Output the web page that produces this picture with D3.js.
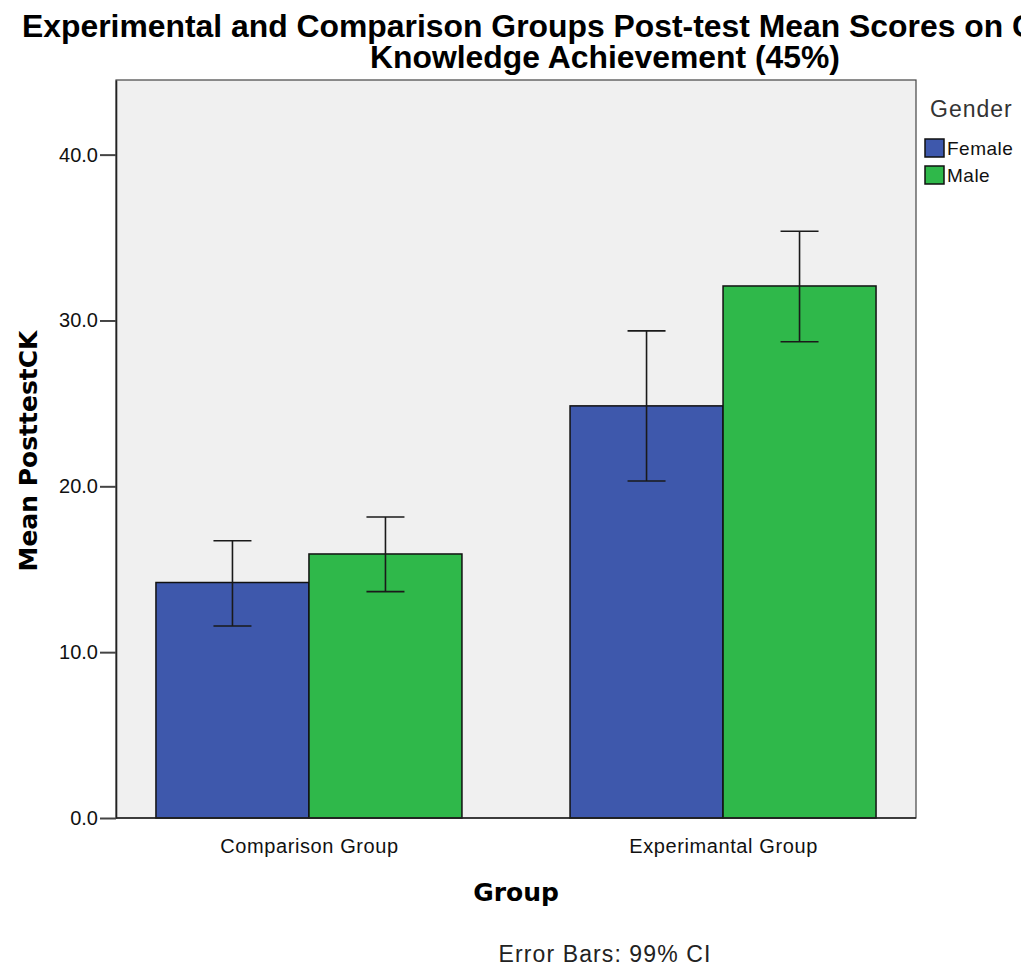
<!DOCTYPE html>
<html>
<head>
<meta charset="utf-8">
<script src="https://cdn.jsdelivr.net/npm/d3@7"></script>
<style>
  body { margin: 0; background: #fff; }
  svg { display: block; font-family: "Liberation Sans", Arial, sans-serif; }
</style>
</head>
<body>
<svg id="chart"></svg>
<script>
// data
const groups = ["Comparison Group", "Experimantal Group"];
const genders = ["Female", "Male"];
const femaleMeans = [14.2, 24.85];
const maleMeans = [15.92, 32.08];
const femaleLow = [11.58, 20.32];
const femaleHigh = [16.72, 29.37];
const maleLow = [13.65, 28.72];
const maleHigh = [18.15, 35.38];
const yTicks = [0, 10, 20, 30, 40];

const colors = ["#3e58ac", "#2fb84a"];

const width = 1021, height = 966;
const margin = {top: 80, right: 105, bottom: 148, left: 116};

const svg = d3.select("#chart")
  .attr("width", width)
  .attr("height", height);

// rows for the bars
let rows = [];
groups.forEach(function(g, i) {
  rows.push({group: g, gender: "Female", mean: femaleMeans[i], lo: femaleLow[i], hi: femaleHigh[i]});
  rows.push({group: g, gender: "Male", mean: maleMeans[i], lo: maleLow[i], hi: maleHigh[i]});
});

const x = d3.scalePoint()
  .domain(groups)
  .range([margin.left, width - margin.right])
  .padding(0.466);

const inner = d3.scaleBand()
  .domain(genders)
  .range([-153, 153]);

const y = d3.scaleLinear()
  .domain([0, 44.5])
  .range([height - margin.bottom, margin.top]);

const color = d3.scaleOrdinal().domain(genders).range(colors);

// plot background
svg.append("rect")
  .attr("x", margin.left)
  .attr("y", margin.top)
  .attr("width", width - margin.left - margin.right)
  .attr("height", height - margin.top - margin.bottom)
  .attr("fill", "#f0f0f0")
  .attr("stroke", "#444")
  .attr("stroke-width", 1.2);

// bars
svg.selectAll(".bar")
  .data(rows)
  .enter().append("rect")
  .attr("class", "bar")
  .attr("x", function(d) { return x(d.group) + inner(d.gender); })
  .attr("y", function(d) { return y(d.mean); })
  .attr("width", inner.bandwidth())
  .attr("height", function(d) { return y(0) - y(d.mean); })
  .attr("fill", function(d) { return color(d.gender); })
  .attr("stroke", "#111")
  .attr("stroke-width", 1.5);

// error bars
let eb = svg.selectAll(".err")
  .data(rows)
  .enter().append("g")
  .attr("class", "err")
  .attr("transform", function(d) { return "translate(" + (x(d.group) + inner(d.gender) + inner.bandwidth() / 2) + ",0)"; })
  .attr("stroke", "#1a1a1a")
  .attr("stroke-width", 1.6);

eb.append("line")
  .attr("y1", function(d) { return y(d.lo); })
  .attr("y2", function(d) { return y(d.hi); });
eb.append("line")
  .attr("x1", -19).attr("x2", 19)
  .attr("y1", function(d) { return y(d.hi); })
  .attr("y2", function(d) { return y(d.hi); });
eb.append("line")
  .attr("x1", -19).attr("x2", 19)
  .attr("y1", function(d) { return y(d.lo); })
  .attr("y2", function(d) { return y(d.lo); });

// y axis
const yAxis = svg.append("g")
  .attr("transform", "translate(" + margin.left + ",0)")
  .call(d3.axisLeft(y).tickValues(yTicks).tickFormat(d3.format(".1f"))
    .tickSizeInner(16).tickSizeOuter(0).tickPadding(2));
yAxis.select(".domain").attr("stroke", "#222").attr("stroke-width", 1.6);
yAxis.selectAll(".tick line").attr("stroke", "#444").attr("stroke-width", 2);
yAxis.selectAll(".tick text")
  .attr("fill", "#111")
  .style("font-size", "20px")
  .style("font-family", "'Liberation Sans', Arial, sans-serif");

// x axis
const xAxis = svg.append("g")
  .attr("transform", "translate(0," + y(0) + ")")
  .call(d3.axisBottom(x).tickSize(0).tickPadding(21));
xAxis.select(".domain").attr("stroke", "#222").attr("stroke-width", 1.6)
  .attr("d", "M" + margin.left + ",0H" + (width - margin.right));
xAxis.selectAll(".tick text")
  .attr("fill", "#111")
  .style("font-size", "20px")
  .style("letter-spacing", "0.6px")
  .style("font-family", "'Liberation Sans', Arial, sans-serif");

// axis titles
svg.append("text")
  .attr("transform", "translate(37,451) rotate(-90)")
  .attr("text-anchor", "middle")
  .style("font-family", "'DejaVu Sans', sans-serif")
  .style("font-weight", "bold")
  .style("font-size", "25px")
  .attr("fill", "#000")
  .text("Mean PosttestCK");

svg.append("text")
  .attr("x", 516)
  .attr("y", 901)
  .attr("text-anchor", "middle")
  .style("font-family", "'DejaVu Sans', sans-serif")
  .style("font-weight", "bold")
  .style("font-size", "25px")
  .attr("fill", "#000")
  .text("Group");

svg.append("text")
  .attr("x", 605)
  .attr("y", 962)
  .attr("text-anchor", "middle")
  .style("font-size", "23px")
  .style("letter-spacing", "1.1px")
  .attr("fill", "#222")
  .text("Error Bars: 99% CI");

// title: scale horizontally so line 2 spans the same width as the reference
const title = svg.append("g")
  .style("font-weight", "bold")
  .style("font-size", "31px")
  .attr("fill", "#000");
const t1 = title.append("text")
  .attr("y", 37)
  .text("Experimental and Comparison Groups Post-test Mean Scores on Content");
const t2 = title.append("text")
  .attr("y", 68)
  .text("Knowledge Achievement (45%)");
const sx = 470 / t2.node().getComputedTextLength();
t1.attr("transform", "translate(22,0) scale(" + sx + ",1)");
t2.attr("transform", "translate(370,0) scale(" + sx + ",1)");

// legend
const legend = svg.append("g").attr("transform", "translate(925,0)");
legend.append("text")
  .attr("x", 5)
  .attr("y", 117)
  .style("font-size", "23px")
  .style("letter-spacing", "1px")
  .attr("fill", "#333")
  .text("Gender");

let li = legend.selectAll(".leg")
  .data(genders)
  .enter().append("g")
  .attr("class", "leg")
  .attr("transform", function(d, i) { return "translate(0," + (139 + i * 27) + ")"; });
li.append("rect")
  .attr("width", 19)
  .attr("height", 18)
  .attr("fill", function(d) { return color(d); })
  .attr("stroke", "#111")
  .attr("stroke-width", 1.5);
li.append("text")
  .attr("x", 22)
  .attr("y", 16)
  .style("font-size", "19px")
  .style("letter-spacing", "0.5px")
  .attr("fill", "#111")
  .text(function(d) { return d; });
</script>
</body>
</html>
